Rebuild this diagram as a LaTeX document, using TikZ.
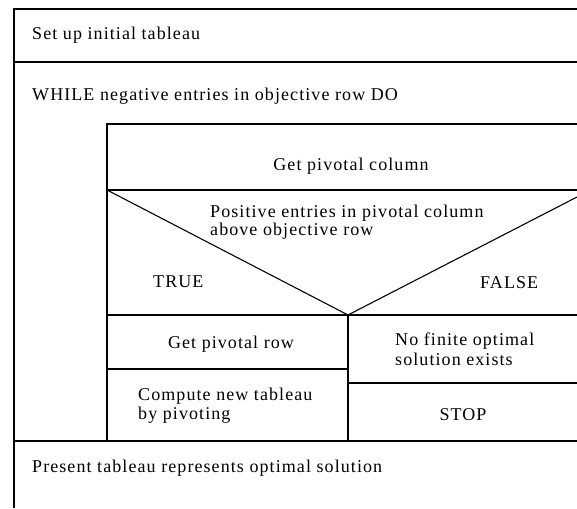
\documentclass[tikz,border=0pt]{standalone}
\usepackage{fontspec}
\setmainfont{Liberation Serif}[LetterSpace=6]
\begin{document}
\begin{tikzpicture}[x=1pt,y=-1pt,
  ln/.style={line width=1.1pt,black},
  txt/.style={font=\fontsize{18}{19}\selectfont,inner sep=0pt,anchor=base},
  ltxt/.style={txt,anchor=base west}]
\useasboundingbox (0,0) rectangle (577,508);
% outer frame
\draw[ln] (577,9) -- (14,9) -- (14,508);
\draw[ln] (14,62) -- (577,62);
% inner while body
\draw[ln] (577,124) -- (107,124) -- (107,441);
\draw[ln] (14,441) -- (577,441);
\draw[ln] (107,190) -- (577,190);
% decision triangle
\draw[ln] (107,190) -- (348,315) -- (577,197);
\draw[ln] (107,315) -- (577,315);
\draw[ln] (348,315) -- (348,441);
\draw[ln] (107,369) -- (348,369);
\draw[ln] (348,383) -- (577,383);
% texts
\node[ltxt] (setup) at (32,40) {Set up initial tableau};
\node[ltxt] (while) at (32,100) {WHILE negative entries in objective row DO};
\node[txt] (getcol) at (351,170) {Get pivotal column};
\node[ltxt] (cond1) at (210,217) {Positive entries in pivotal column};
\node[ltxt] (cond2) at (210,235) {above objective row};
\node[ltxt] (true) at (153,287) {TRUE};
\node[ltxt] (false) at (480,288) {FALSE};
\node[txt] (getrow) at (231,348) {Get pivotal row};
\node[ltxt] (nofin1) at (395,345) {No finite optimal};
\node[ltxt] (nofin2) at (395,365) {solution exists};
\node[ltxt] (comp1) at (138,400) {Compute new tableau};
\node[ltxt] (comp2) at (138,419) {by pivoting};
\node[txt] (stop) at (463,420) {STOP};
\node[ltxt] (present) at (32,472) {Present tableau represents optimal solution};
\end{tikzpicture}
\end{document}
